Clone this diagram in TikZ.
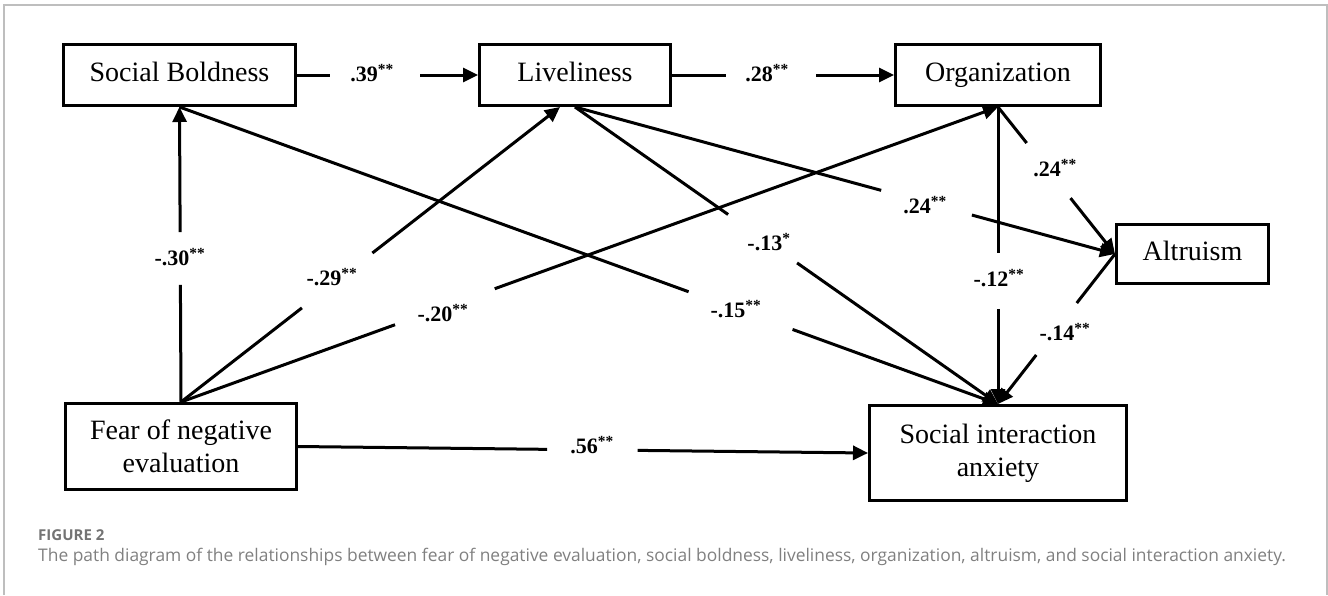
\documentclass[tikz,border=0pt]{standalone}
\usepackage{fontspec}
\setmainfont{Liberation Serif}
\newfontfamily\capfont{Open Sans}
\usetikzlibrary{arrows.meta,calc}
\definecolor{framegray}{RGB}{190,190,190}
\definecolor{capgray}{RGB}{128,128,128}
\definecolor{figgray}{RGB}{115,115,115}
\begin{document}
\begin{tikzpicture}[x=1pt,y=-1pt,
  box/.style={draw,line width=3pt,inner sep=0pt,align=center,font=\fontsize{28}{33}\selectfont},
  conn/.style={line width=3pt},
  arr/.style={conn,-{Triangle[length=15pt,width=14pt]}},
  lab/.style={font=\fontsize{22}{26}\selectfont\bfseries,inner sep=0pt},
  frame/.style={draw=framegray,line width=1.5pt},
]
\useasboundingbox (0,0) rectangle (1328,595);
% frame
\draw[frame] (4,595) -- (4,5) -- (1327,5) -- (1327,595);

% boxes
\node[box,minimum width=232pt,minimum height=61pt] (SB) at (179.5,75) {\strut Social Boldness};
\node[box,minimum width=191pt,minimum height=61pt] (LV) at (575,75) {\strut Liveliness};
\node[box,minimum width=205pt,minimum height=61pt] (OR) at (998,75) {\strut Organization};
\node[box,minimum width=152pt,minimum height=59pt] (AL) at (1192.5,254) {\strut Altruism};
\node[box,minimum width=231pt,minimum height=86pt] (FNE) at (181,446.5) {Fear of negative\\evaluation};
\node[box,minimum width=257pt,minimum height=95pt] (SIA) at (998,453) {Social interaction\\anxiety};

\coordinate (LVin) at ([xshift=-15pt]LV.south);

% SB -> LV
\draw[conn] (SB.east) -- ($(SB.east)!0.18!(LV.west)$);
\draw[arr] ($(SB.east)!0.68!(LV.west)$) -- (LV.west);
\node[lab] (l1) at (372,73) {.39\textsuperscript{**}};
% LV -> OR
\draw[conn] (LV.east) -- ($(LV.east)!0.243!(OR.west)$);
\draw[arr] ($(LV.east)!0.65!(OR.west)$) -- (OR.west);
\node[lab] (l2) at (767,73) {.28\textsuperscript{**}};
% FNE -> SB
\draw[conn] (FNE.north) -- ($(FNE.north)!0.397!(SB.south)$);
\draw[arr] ($(FNE.north)!0.576!(SB.south)$) -- (SB.south);
\node[lab] (l3) at (180,257) {-.30\textsuperscript{**}};
% FNE -> LV
\draw[conn] (FNE.north) -- ($(FNE.north)!0.319!(LVin)$);
\draw[arr] ($(FNE.north)!0.505!(LVin)$) -- (LVin);
\node[lab] (l4) at (332,277) {-.29\textsuperscript{**}};
% FNE -> OR
\draw[conn] (FNE.north) -- ($(FNE.north)!0.262!(OR.south)$);
\draw[arr] ($(FNE.north)!0.384!(OR.south)$) -- (OR.south);
\node[lab] (l5) at (443,313) {-.20\textsuperscript{**}};
% FNE -> SIA
\draw[conn] (FNE.east) -- ($(FNE.east)!0.437!(SIA.west)$);
\draw[arr] ($(FNE.east)!0.596!(SIA.west)$) -- (SIA.west);
\node[lab] (l6) at (592,445) {.56\textsuperscript{**}};
% SB -> SIA
\draw[conn] (SB.south) -- ($(SB.south)!0.622!(SIA.north)$);
\draw[arr] ($(SB.south)!0.749!(SIA.north)$) -- (SIA.north);
\node[lab] (l7) at (736,309) {-.15\textsuperscript{**}};
% LV -> SIA
\draw[conn] (LV.south) -- ($(LV.south)!0.362!(SIA.north)$);
\draw[arr] ($(LV.south)!0.525!(SIA.north)$) -- (SIA.north);
\node[lab] (l8) at (769,242) {-.13\textsuperscript{*}};
% LV -> AL
\draw[conn] (LV.south) -- ($(LV.south)!0.567!(AL.west)$);
\draw[arr] ($(LV.south)!0.735!(AL.west)$) -- (AL.west);
\node[lab] (l9) at (925,205) {.24\textsuperscript{**}};
% OR -> AL
\draw[conn] (OR.south) -- ($(OR.south)!0.245!(AL.west)$);
\draw[arr] ($(OR.south)!0.62!(AL.west)$) -- (AL.west);
\node[lab] (l10) at (1055,168) {.24\textsuperscript{**}};
% OR -> SIA
\draw[conn] (OR.south) -- ($(OR.south)!0.49!(SIA.north)$);
\draw[arr] ($(OR.south)!0.68!(SIA.north)$) -- (SIA.north);
\node[lab] (l11) at (999,278) {-.12\textsuperscript{**}};
% AL -> SIA
\draw[conn] (AL.west) -- ($(AL.west)!0.327!(SIA.north)$);
\draw[arr] ($(AL.west)!0.673!(SIA.north)$) -- (SIA.north);
\node[lab] (l12) at (1065,332) {-.14\textsuperscript{**}};

% caption
\node[anchor=west,inner sep=0pt,text=figgray,font=\capfont\bfseries\fontsize{15}{18}\selectfont] (fig) at (38,535) {FIGURE 2};
\node[anchor=west,inner sep=0pt,text=capgray,font=\capfont\fontsize{17.4}{20}\selectfont] (cap) at (38,557) {The path diagram of the relationships between fear of negative evaluation, social boldness, liveliness, organization, altruism, and social interaction anxiety.};
\end{tikzpicture}
\end{document}
